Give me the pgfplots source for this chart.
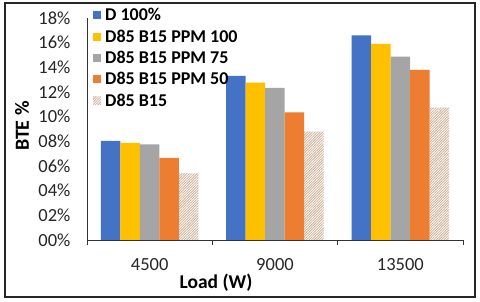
\documentclass[border=0pt]{standalone}
\usepackage{pgfplots}
\pgfplotsset{compat=1.18}
\usepackage{fontspec}
\setmainfont{Carlito}
\usetikzlibrary{patterns.meta}
\definecolor{cblue}{HTML}{4472C4}
\definecolor{cyel}{HTML}{FFC000}
\definecolor{cgray}{HTML}{A5A5A5}
\definecolor{corange}{HTML}{ED7D31}
\definecolor{ctan}{HTML}{CDAE94}
\begin{document}
\begin{tikzpicture}[x=1pt,y=1pt]
\path[use as bounding box] (-87,-62) rectangle (393,240);
\fill[white] (-87,-62) rectangle (393,240);
\begin{axis}[
  at={(0,0)}, anchor=south west,
  scale only axis, width=376pt, height=222pt,
  ybar=0pt, bar width=19.5pt,
  xmin=-0.5, xmax=2.5, ymin=0, ymax=18,
  axis x line*=bottom, axis y line*=left,
  axis line style={black!80, line width=0.8pt},
  xtick={0,1,2}, xticklabels={4500,9000,13500},
  x tick style={black!80, line width=0.8pt},
  xtick align=inside, major tick length=4pt,
  extra x ticks={-0.5,0.5,1.5,2.5}, extra x tick labels={},
  extra x tick style={tick align=outside, major tick length=5pt},
  ytick={0,2,...,18},
  yticklabels={00\%,02\%,04\%,06\%,08\%,10\%,12\%,14\%,16\%,18\%},
  ytick style={draw=none},
  /pgf/number format/assume math mode=true,
  tick label style={font=\fontsize{18.5}{21}\selectfont, text=black!85},
  yticklabel style={xshift=-13pt},
  xticklabel style={yshift=-15pt},
  legend style={at={(3pt,235pt)}, anchor=north west, draw=none, fill=none,
    font=\bfseries\fontsize{18}{20}\selectfont, row sep=5.5pt,
    nodes={inner sep=1pt}},
  legend cell align=left,
  legend image code/.code={\fill[#1] (0pt,-4pt) rectangle (8pt,4pt); \path (11pt,0pt);},
  clip=false,
]
\addplot[fill=cblue, draw=none] coordinates {(0,8.03) (1,13.3) (2,16.6)};
\addplot[fill=cyel, draw=none] coordinates {(0,7.87) (1,12.76) (2,15.9)};
\addplot[fill=cgray, draw=none] coordinates {(0,7.76) (1,12.33) (2,14.87)};
\addplot[fill=corange, draw=none] coordinates {(0,6.65) (1,10.35) (2,13.79)};
\addplot[draw=none, pattern={Lines[angle=45,distance=1.8pt,line width=0.8pt]}, pattern color=ctan] coordinates {(0,5.4) (1,8.78) (2,10.73)};
\legend{D 100\%, D85 B15 PPM 100, D85 B15 PPM 75, D85 B15 PPM 50, D85 B15}
\end{axis}
\node[font=\bfseries\fontsize{19.5}{21}\selectfont] at (129,-43) {Load (W)};
\node[font=\bfseries\fontsize{20}{22}\selectfont, rotate=90] at (-65,114) {BTE \%};
\draw[black!85, line width=1.5pt] (-82,-57) rectangle (388,237);
\end{tikzpicture}
\end{document}
